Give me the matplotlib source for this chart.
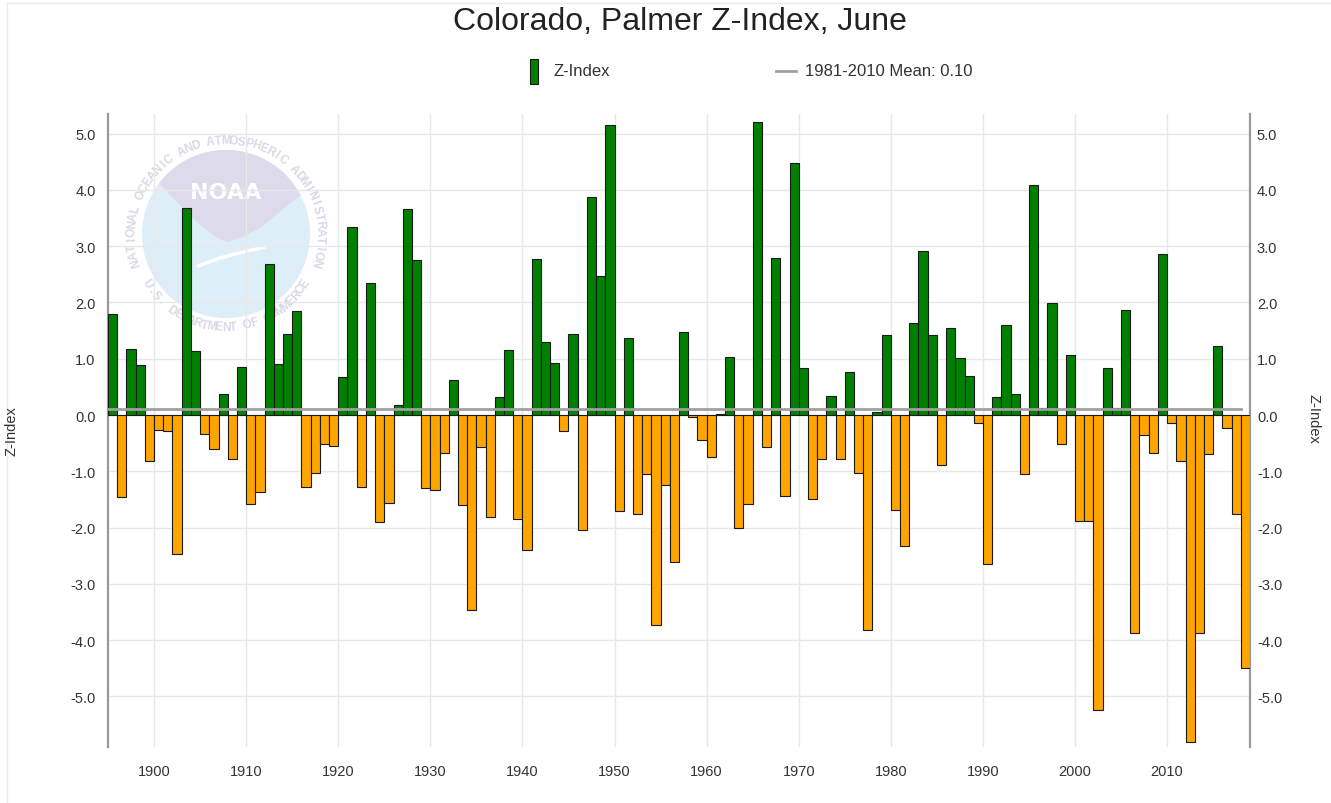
import numpy as np
import matplotlib
matplotlib.use("Agg")
import matplotlib.pyplot as plt
from matplotlib.patches import Circle, Polygon, Rectangle
from matplotlib.lines import Line2D
from matplotlib.ticker import FormatStrFormatter

plt.rcParams['font.family'] = ['Liberation Sans', 'DejaVu Sans']

# Colorado, Palmer Z-Index, June
years = list(range(1895, 2019))
z_index = [
    1.80, -1.46, 1.18, 0.89, -0.81, -0.26, -0.28, -2.47, 3.68, 1.14,    # 1895-1904
    -0.33, -0.60, 0.37, -0.78, 0.86, -1.58, -1.36, 2.68, 0.90, 1.44,    # 1905-1914
    1.84, -1.28, -1.03, -0.52, -0.55, 0.67, 3.34, -1.28, 2.34, -1.90,   # 1915-1924
    -1.57, 0.18, 3.66, 2.76, -1.30, -1.34, -0.68, 0.62, -1.60, -3.47,   # 1925-1934
    -0.56, -1.82, 0.32, 1.16, -1.85, -2.40, 2.78, 1.30, 0.93, -0.29,    # 1935-1944
    1.44, -2.04, 3.88, 2.47, 5.16, -1.71, 1.37, -1.76, -1.05, -3.74,    # 1945-1954
    -1.25, -2.62, 1.47, -0.03, -0.44, -0.74, 0.02, 1.03, -2.01, -1.58,  # 1955-1964
    5.20, -0.56, 2.79, -1.44, 4.48, 0.83, -1.50, -0.78, 0.34, -0.79,    # 1965-1974
    0.76, -1.03, -3.82, 0.05, 1.43, -1.69, -2.33, 1.63, 2.92, 1.43,     # 1975-1984
    -0.88, 1.55, 1.02, 0.70, -0.14, -2.64, 0.32, 1.60, 0.38, -1.05,     # 1985-1994
    4.08, 0.12, 1.99, -0.52, 1.06, -1.88, -1.88, -5.24, 0.84, 0.12,     # 1995-2004
    1.86, -3.87, -0.35, -0.68, 2.87, -0.15, -0.82, -5.81, -3.88, -0.70, # 2005-2014
    1.23, -0.23, -1.76, -4.49,                                          # 2015-2018
]
mean_value = 0.10
mean_label = "1981-2010 Mean: 0.10"
series_label = "Z-Index"
title = "Colorado, Palmer Z-Index, June"

W, H = 1331, 804
def fx(px):
    return px / W
def fy(py):
    return 1 - py / H

fig = plt.figure(figsize=(W / 100, H / 100), dpi=100)

# faint NOAA watermark behind the plot
logo = fig.add_axes([fx(115), fy(345), 230 / W, 230 / H], zorder=0)
logo.set_xlim(115, 345)
logo.set_ylim(345, 115)
logo.axis('off')
cx, cy, r = 226, 235, 84
disc = Circle((cx, cy), r, fc='#ddeef9', ec='none')
logo.add_patch(disc)
gull = Polygon([(158, 183), (177, 203), (197, 223), (217, 239), (227, 243),
                (243, 238), (263, 227), (283, 210), (307, 191), (345, 150),
                (345, 100), (115, 100), (115, 170)],
               closed=True, fc='#dcdaeb', ec='none')
logo.add_patch(gull)
gull.set_clip_path(disc)
logo.plot([198, 220, 243, 265], [267, 259, 253, 248], color='white', lw=2.5,
          solid_capstyle='round')
logo.text(226, 193, "NOAA", color='white', fontsize=16, fontweight='bold',
          family='DejaVu Sans', ha='center', va='center')
ring_top = "NATIONAL OCEANIC AND ATMOSPHERIC ADMINISTRATION"
for a, ch in zip(np.linspace(197, -17, len(ring_top)), ring_top):
    t = np.radians(a)
    logo.text(cx + 94 * np.cos(t), cy - 94 * np.sin(t), ch, rotation=a - 90,
              ha='center', va='center', fontsize=8.5, fontweight='bold',
              color='#d8d8e8')
ring_bot = "U.S. DEPARTMENT OF COMMERCE"
for a, ch in zip(np.linspace(212, 328, len(ring_bot)), ring_bot):
    t = np.radians(a)
    logo.text(cx + 93 * np.cos(t), cy - 93 * np.sin(t), ch, rotation=a + 90,
              ha='center', va='center', fontsize=8.5, fontweight='bold',
              color='#d8d8e8')

# main plot
ax = fig.add_axes([fx(108), fy(748), (1250 - 108) / W, (748 - 115) / H], zorder=2)
ax.set_facecolor('none')
colors = ['#008000' if v >= 0 else '#FFA500' for v in z_index]
ax.bar(years, z_index, width=1, align='edge', color=colors,
       edgecolor='#1a1a1a', linewidth=0.8, zorder=3)
ax.plot([years[0], years[-1]], [mean_value, mean_value], color='#a0a0a0',
        lw=2, zorder=4)

ax.set_xlim(1895, 2019)
ax.set_ylim(-5.9, 5.35)
ax.set_xticks(range(1900, 2011, 10))
ax.set_yticks(range(-5, 6))
ax.yaxis.set_major_formatter(FormatStrFormatter('%.1f'))
ax.grid(color='#e8e8e8', lw=1)
ax.set_axisbelow(True)
for s in ('top', 'bottom'):
    ax.spines[s].set_visible(False)
for s in ('left', 'right'):
    ax.spines[s].set_color('#999999')
    ax.spines[s].set_linewidth(1.6)
ax.tick_params(axis='both', length=0, labelsize=10.5, labelcolor='#333333')
ax.tick_params(axis='x', pad=12)
ax.tick_params(axis='y', pad=9)
ax.set_ylabel("Z-Index", fontsize=10.5, color='#333333')
ax.yaxis.set_label_coords((18 - 108) / 1142, 0.5)

ax2 = ax.twinx()
ax2.set_ylim(ax.get_ylim())
ax2.set_yticks(range(-5, 6))
ax2.yaxis.set_major_formatter(FormatStrFormatter('%.1f'))
for s in ax2.spines.values():
    s.set_visible(False)
ax2.tick_params(axis='y', length=0, labelsize=10.5, labelcolor='#333333', pad=5)
ax2.set_ylabel("Z-Index", fontsize=10.5, color='#333333', rotation=270)
ax2.yaxis.set_label_coords((1320 - 108) / 1142, 0.52)

# title and legend
fig.text(fx(680), fy(22), title, ha='center', va='center', fontsize=23,
         color='#222222')
fig.add_artist(Rectangle((fx(530), fy(85)), 8 / W, 25 / H, fc='#008000',
                         ec='#1a1a1a', lw=0.8))
fig.text(fx(553), fy(72), series_label, ha='left', va='center', fontsize=12,
         color='#333333')
fig.add_artist(Line2D([fx(776), fx(796)], [fy(72), fy(72)], color='#a0a0a0', lw=2))
fig.text(fx(805), fy(72), mean_label, ha='left', va='center', fontsize=12,
         color='#333333')

# faint container edge
fig.add_artist(Line2D([fx(7), 1], [fy(4), fy(4)], color='#ececec', lw=1))
fig.add_artist(Line2D([fx(7), fx(7)], [fy(4), 0], color='#ececec', lw=1))

fig.savefig("out.png", dpi=100)
